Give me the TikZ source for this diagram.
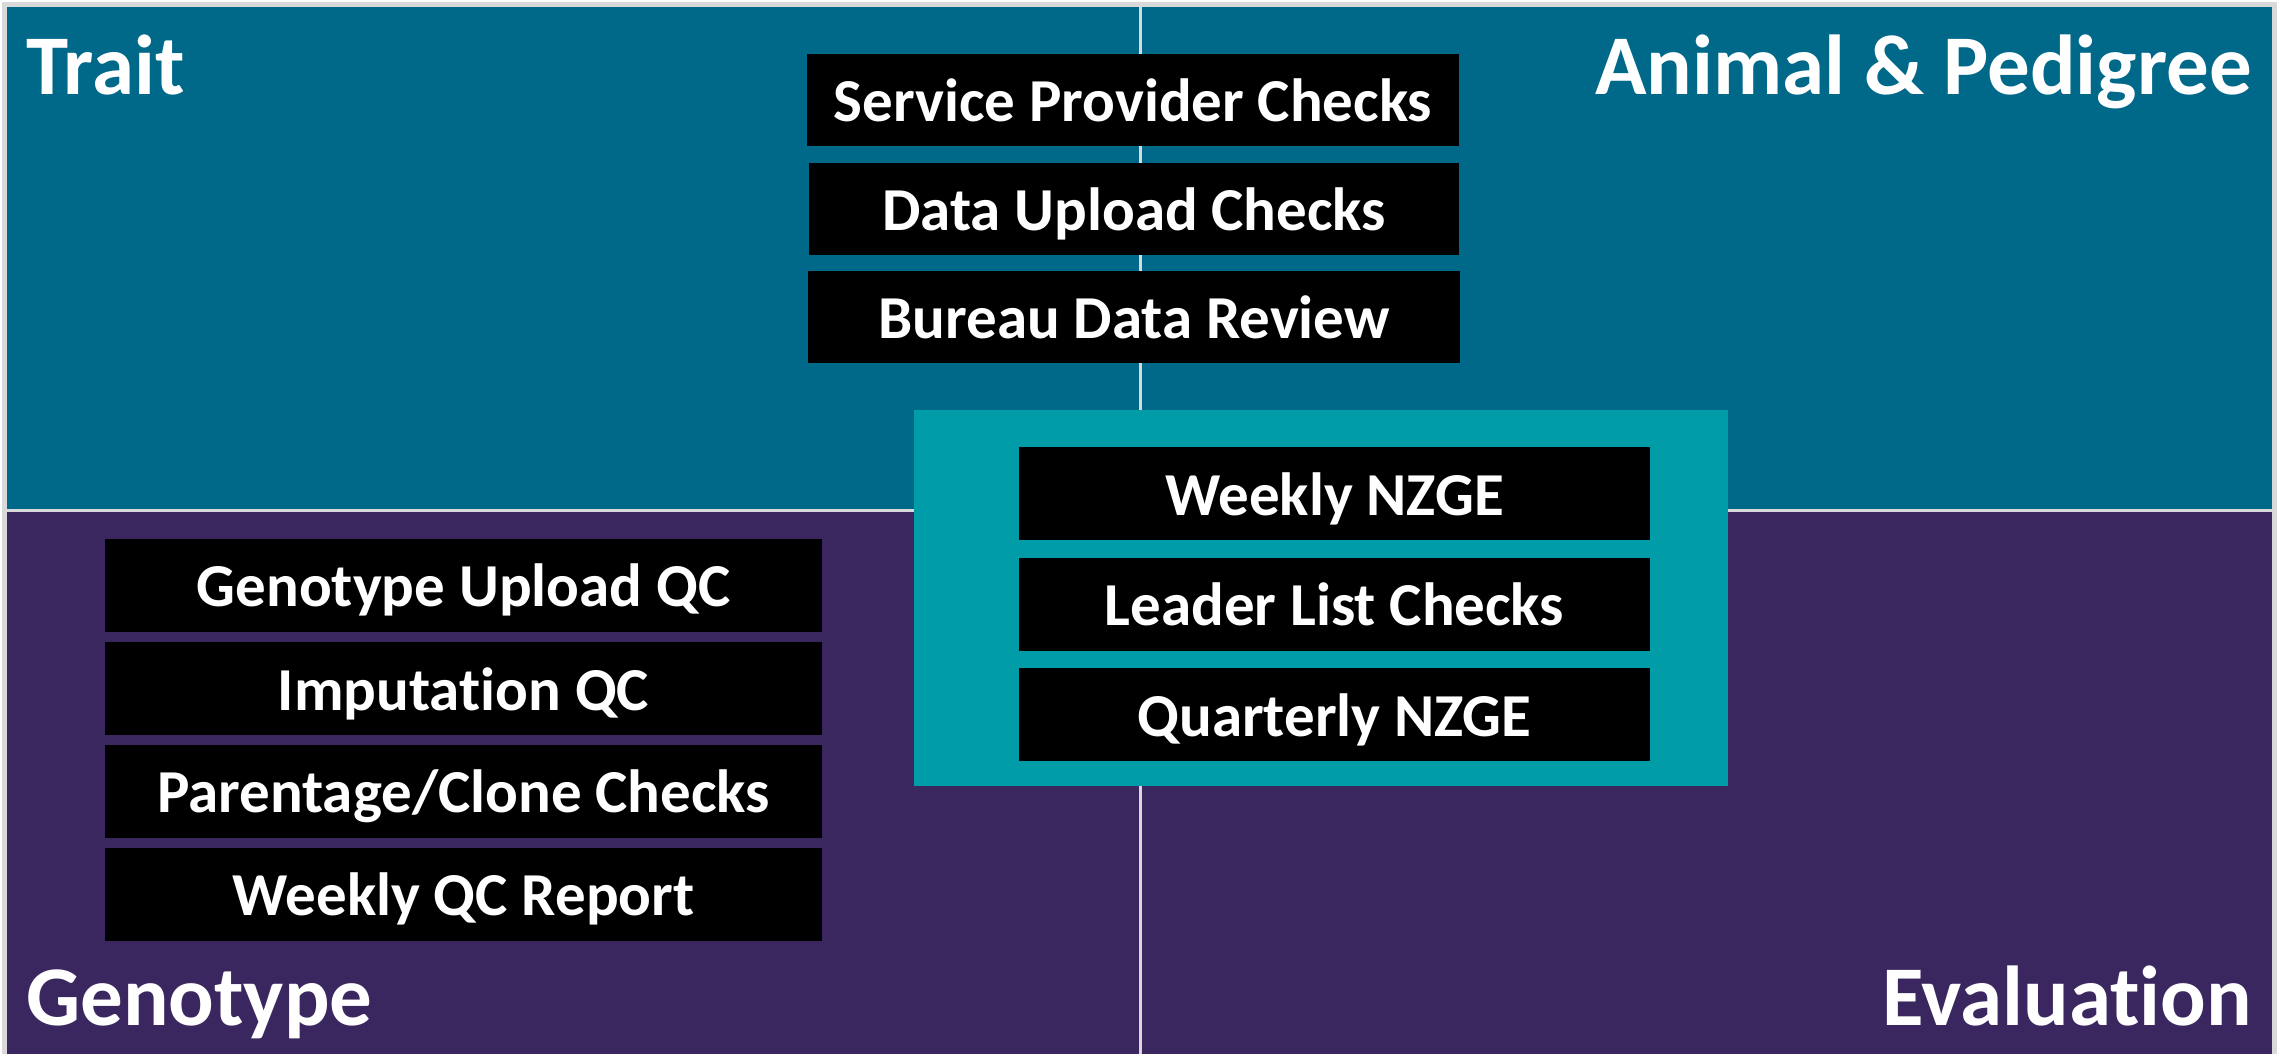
\documentclass[tikz,border=0pt]{standalone}
\usepackage{fontspec}
\setmainfont{Carlito}[Ligatures=NoCommon]
\definecolor{topq}{HTML}{006889}
\definecolor{botq}{HTML}{3B2760}
\definecolor{midq}{HTML}{009CA8}
\definecolor{lineg}{HTML}{D9D9D9}
\begin{document}
\begin{tikzpicture}[x=1pt,y=-1pt,
  check/.style={fill=black, text=white, inner sep=0pt, outer sep=0pt,
    minimum height=92pt, text height=43pt, text depth=0pt,
    font=\fontsize{61}{61}\selectfont\bfseries},
  qtitle/.style={text=white, inner sep=0pt, font=\fontsize{85}{85}\selectfont\bfseries}]
\useasboundingbox (0,0) rectangle (2282,1054);
\fill[white] (0,0) rectangle (2282,1054);
\fill[lineg] (2,2) rectangle (2277,1054);
% quadrants
\fill[topq] (7,7) rectangle (1139,509);
\fill[topq] (1142,7) rectangle (2272,509);
\fill[botq] (7,512) rectangle (1139,1054);
\fill[botq] (1142,512) rectangle (2272,1054);
% titles
\node[qtitle, anchor=base west] (trait) at (26,95) {Trait};
\node[qtitle, anchor=base east] (animal) at (2252,95) {Animal \& Pedigree};
\node[qtitle, anchor=base west] (geno) at (26,1025) {Genotype};
\node[qtitle, anchor=base east] (eval) at (2252,1025) {Evaluation};
% top checks
\node[check, minimum width=652pt] (spc) at (1133,100) {Service Provider Checks};
\node[check, minimum width=650pt] (duc) at (1134,208.5) {Data Upload Checks};
\node[check, minimum width=652pt] (bdr) at (1134,316.5) {Bureau Data Review};
% central evaluation box
\node[fill=midq, inner sep=0pt, minimum width=814pt, minimum height=376pt] (central) at (1321,598) {};
\node[check, minimum width=631pt, minimum height=93pt] (wnzge) at (1334.5,493.5) {Weekly NZGE};
\node[check, minimum width=631pt, minimum height=93pt] (llc) at (1334.5,604) {Leader List Checks};
\node[check, minimum width=631pt, minimum height=93pt] (qnzge) at (1334.5,714.5) {Quarterly NZGE};
% genotype checks
\node[check, minimum width=717pt, minimum height=93pt] (guqc) at (463.5,585) {Genotype Upload QC};
\node[check, minimum width=717pt, minimum height=93pt] (iqc) at (463.5,688.5) {Imputation QC};
\node[check, minimum width=717pt, minimum height=93pt] (pcc) at (463.5,791) {Parentage/Clone Checks};
\node[check, minimum width=717pt, minimum height=93pt] (wqr) at (463.5,894) {Weekly QC Report};
\end{tikzpicture}
\end{document}
